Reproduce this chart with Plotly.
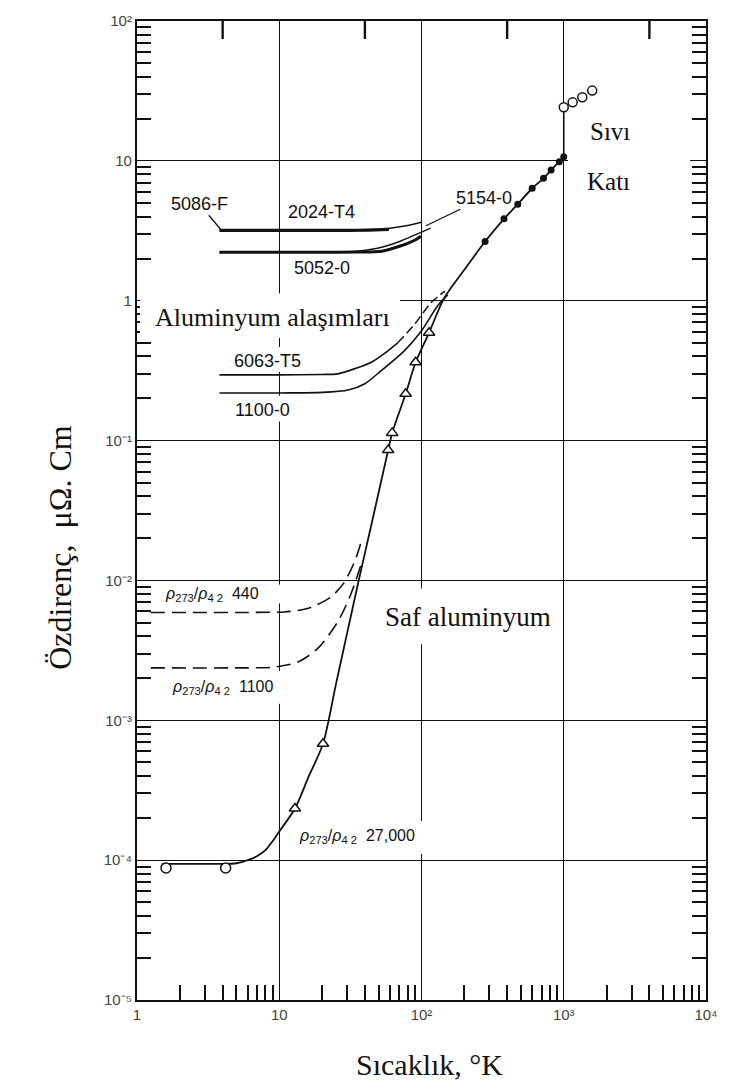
import math
import plotly.graph_objects as go

# ---------------- data ----------------
# Pure aluminium, rho273/rho4.2 = 27,000 : smooth curve
T_pure = [1.5, 3, 4.2, 5, 6, 7, 8, 9, 10, 12.9, 16, 20.3, 25, 30, 36.2, 45, 58.3, 62.2,
          77.4, 91, 113, 144, 205, 280, 380, 475, 600, 720, 815, 930, 1000]
rho_pure = [9.4e-5, 9.4e-5, 9.4e-5, 9.5e-5, 1.0e-4, 1.07e-4, 1.18e-4, 1.37e-4, 1.6e-4, 2.34e-4,
            3.9e-4, 6.8e-4, 1.8e-3, 4.2e-3, 1.0e-2, 2.65e-2, 8.55e-2, 0.1135,
            0.216, 0.363, 0.59, 1.04, 1.72, 2.65, 3.85, 4.9, 6.37, 7.5, 8.6, 9.85, 10.7]
# measured points
T_circ = [1.6, 4.2]
rho_circ = [8.8e-5, 8.8e-5]
T_tri = [12.9, 20.3, 58.3, 62.2, 77.4, 91, 113]
rho_tri = [2.34e-4, 6.8e-4, 8.55e-2, 0.1135, 0.216, 0.363, 0.59]
T_solid = [280, 380, 475, 600, 720, 815, 930, 1000]
rho_solid = [2.65, 3.85, 4.9, 6.37, 7.5, 8.6, 9.85, 10.7]
T_liquid = [1000, 1155, 1350, 1585]
rho_liquid = [24.2, 26.2, 28.5, 31.8]

# Pure aluminium, lower purity (dashed)
T_440 = [1.25, 5, 10.8, 13.5, 16.6, 23, 28.5, 34.3, 38.3]
rho_440 = [5.9e-3, 5.9e-3, 5.95e-3, 6.1e-3, 6.4e-3, 7.6e-3, 9.6e-3, 1.41e-2, 2.01e-2]
T_1100 = [1.25, 5, 9.2, 13.4, 18.5, 25.6, 31.6, 37.3]
rho_1100 = [2.37e-3, 2.37e-3, 2.4e-3, 2.6e-3, 3.24e-3, 5.0e-3, 7.8e-3, 1.27e-2]

# Aluminium alloys
T_6063 = [3.8, 10, 20, 25.8, 35, 44.4, 55, 68]
rho_6063 = [0.295, 0.295, 0.297, 0.30, 0.33, 0.363, 0.42, 0.50]
T_6063_hi = [68, 89.5, 117, 146]
rho_6063_hi = [0.50, 0.68, 0.97, 1.17]
T_1100_0 = [3.8, 10, 20, 30.5, 40, 52, 76, 100, 130, 153]
rho_1100_0 = [0.219, 0.219, 0.221, 0.23, 0.255, 0.316, 0.44, 0.61, 0.92, 1.1]
T_5086 = [3.8, 10, 20, 40, 60, 80, 101]
rho_5086 = [3.2, 3.2, 3.2, 3.23, 3.3, 3.45, 3.65]
T_2024 = [3.8, 10, 20, 40, 59]
rho_2024 = [3.18, 3.18, 3.18, 3.19, 3.23]
T_5052 = [3.8, 10, 20, 35, 52.6, 70, 91, 99]
rho_5052 = [2.22, 2.22, 2.22, 2.23, 2.26, 2.45, 2.73, 2.89]
T_5154 = [3.8, 10, 20, 35, 52.6, 70, 91, 116]
rho_5154 = [2.22, 2.22, 2.22, 2.26, 2.41, 2.65, 2.97, 3.3]

# axis ticks
x_tickvals = [1, 10, 100, 1000, 10000]
x_ticktext = ["1", "10", "10²", "10³", "10⁴"]
y_tickvals = [1e-5, 1e-4, 1e-3, 1e-2, 1e-1, 1, 10, 100]
y_ticktext = ["10⁻⁵", "10⁻⁴", "10⁻³", "10⁻²", "10⁻¹", "1", "10", "10²"]
top_tickvals = [4, 40, 400, 4000]
x_decades = [1, 10, 100, 1000]
y_decades = [1e-5, 1e-4, 1e-3, 1e-2, 1e-1, 1, 10]
minor_mult = [2, 3, 4, 5, 6, 7, 8, 9]

x_minor = [d * m for d in x_decades for m in minor_mult]
y_minor = [d * m for d in y_decades for m in minor_mult]

# ---------------- figure ----------------
INK = "#111111"
L, R, T, B = 137, 706, 15, 1000
X_RANGE = [0, 4]
Y_RANGE = [-5, 2]


def pp(xp, yp):
    return (xp - L) / (R - L), (B - yp) / (B - T)


fig = go.Figure()


def line(x, y, width=1.6, dash="solid", shape="spline"):
    fig.add_trace(go.Scatter(x=x, y=y, mode="lines",
                             line=dict(color=INK, width=width, dash=dash, shape=shape, smoothing=0.8),
                             hoverinfo="skip", showlegend=False))


# alloys
line(T_5086, rho_5086, 1.5)
line(T_2024, rho_2024, 3.2)
line(T_5052, rho_5052, 3.0)
line(T_5154, rho_5154, 1.4)
line(T_6063, rho_6063, 1.6)
line(T_6063_hi, rho_6063_hi, 1.5, dash="9px,4px")
line(T_1100_0, rho_1100_0, 1.6)
# dashed pure
line(T_440, rho_440, 1.6, dash="14px,7px")
line(T_1100, rho_1100, 1.6, dash="14px,7px")
# pure curve
line(T_pure, rho_pure, 1.8)
# melting jump
fig.add_trace(go.Scatter(x=[T_solid[-1], T_liquid[0]], y=[rho_solid[-1], rho_liquid[0]],
                         mode="lines", line=dict(color=INK, width=1.6),
                         hoverinfo="skip", showlegend=False))

open_mk = dict(color="white", size=10, line=dict(color=INK, width=1.5))
fig.add_trace(go.Scatter(x=T_circ, y=rho_circ, mode="markers",
                         marker=dict(symbol="circle", **open_mk), showlegend=False))
fig.add_trace(go.Scatter(x=T_tri, y=rho_tri, mode="markers",
                         marker=dict(symbol="triangle-up", **open_mk), showlegend=False))
fig.add_trace(go.Scatter(x=T_solid, y=rho_solid, mode="markers",
                         marker=dict(symbol="circle", color=INK, size=7), showlegend=False))
fig.add_trace(go.Scatter(x=T_liquid, y=rho_liquid, mode="markers",
                         marker=dict(symbol="circle", color="white", size=9,
                                     line=dict(color=INK, width=1.5)), showlegend=False))
# anchor trace for the right-hand tick axis
fig.add_trace(go.Scatter(x=T_pure, y=rho_pure, yaxis="y2", mode="lines",
                         opacity=0, hoverinfo="skip", showlegend=False))

tickfont = dict(family="Liberation Sans, Arial, sans-serif", size=15, color="#444444")
fig.update_layout(
    width=734, height=1091,
    margin=dict(l=L, r=734 - R, t=T, b=1091 - B),
    paper_bgcolor="white", plot_bgcolor="white",
    showlegend=False,
    xaxis=dict(type="log", range=X_RANGE, tickmode="array", tickvals=x_tickvals, ticktext=x_ticktext,
               ticks="", showgrid=True, gridcolor=INK, gridwidth=1.4, zeroline=False,
               showline=True, linecolor=INK, linewidth=2.2, mirror=True,
               tickfont=tickfont,
               minor=dict(tickmode="array", tickvals=x_minor, ticks="inside", ticklen=15,
                          tickwidth=1.6, tickcolor=INK, showgrid=False)),
    yaxis=dict(type="log", range=Y_RANGE, tickmode="array", tickvals=y_tickvals, ticktext=y_ticktext,
               ticks="", showgrid=True, gridcolor=INK, gridwidth=1.4, zeroline=False,
               showline=True, linecolor=INK, linewidth=2.2, mirror=True,
               tickfont=tickfont,
               minor=dict(tickmode="array", tickvals=y_minor, ticks="inside", ticklen=14,
                          tickwidth=2, tickcolor=INK, showgrid=False)),
    yaxis2=dict(type="log", range=Y_RANGE, overlaying="y", side="right", anchor="x",
                tickmode="array", tickvals=y_minor, ticks="inside", ticklen=14,
                tickwidth=2, tickcolor=INK, showticklabels=False, showgrid=False,
                zeroline=False, showline=False),
)

# ticks along the top edge (drawn in pixel units from the top of the plot)
for v in top_tickvals:
    xf = (math.log10(v) - X_RANGE[0]) / (X_RANGE[1] - X_RANGE[0])
    fig.add_shape(type="line", xref="paper", yref="paper", ysizemode="pixel", yanchor=1,
                  x0=xf, x1=xf, y0=0, y1=-18,
                  line=dict(color=INK, width=2.4), layer="above")

# white patches that open gaps in the grid lines behind the labels
gaps = [(140, 400, 289, 334), (273, 286, 343, 368), (273, 286, 392, 418),
        (273, 286, 582, 601), (273, 286, 669, 702), (415, 429, 586, 642),
        (415, 429, 820, 853), (568, 690, 150, 161)]
for x0p, x1p, y0p, y1p in gaps:
    a0, b0 = pp(x0p, y1p)
    a1, b1 = pp(x1p, y0p)
    fig.add_shape(type="rect", xref="paper", yref="paper", x0=a0, x1=a1, y0=b0, y1=b1,
                  fillcolor="white", line=dict(width=0), layer="above")

sans = "Liberation Sans, Arial, sans-serif"
serif = "Liberation Serif, Times New Roman, serif"


def label(text, xp, yp, size=18, family=sans, xanchor="center", **kw):
    x, y = pp(xp, yp)
    fig.add_annotation(x=x, y=y, xref="paper", yref="paper", text=text, showarrow=False,
                       xanchor=xanchor, yanchor="middle",
                       font=dict(family=family, size=size, color=INK), **kw)


def leader(text, tipx, tipy, tx, ty, size=18):
    x, y = pp(tipx, tipy)
    fig.add_annotation(x=x, y=y, xref="paper", yref="paper", text=text, showarrow=True,
                       arrowhead=0, arrowwidth=1.3, arrowcolor=INK, ax=tx - tipx, ay=ty - tipy,
                       font=dict(family=sans, size=size, color=INK))


leader("5086-F", 221, 225, 199, 199)
label("2024-T4", 321, 207)
label("5052-0", 322, 264)
leader("5154-0", 426, 221, 484, 193)
label("Aluminyum alaşımları", 153, 313, size=26, family=serif, xanchor="left")
label("6063-T5", 267, 357)
label("1100-0", 262, 406)
rho_lab = "<i>ρ</i><sub>273</sub>/<i>ρ</i><sub>4 2</sub>  "
label(rho_lab + "440", 163, 592, size=16, xanchor="left")
label(rho_lab + "1100", 170, 686, size=16, xanchor="left")
label(rho_lab + "27,000", 297, 835, size=16, xanchor="left")
label("Saf aluminyum", 383, 615, size=27, family=serif, xanchor="left")
label("Sıvı", 588, 126, size=25, family=serif, xanchor="left")
label("Katı", 585, 176, size=25, family=serif, xanchor="left")
label("Özdirenç,  μΩ. Cm", 60, 545, size=32, family=serif, textangle=-90)
label("Sıcaklık, °K", 430, 1065, size=30, family=serif)

fig.write_html("out.html")
